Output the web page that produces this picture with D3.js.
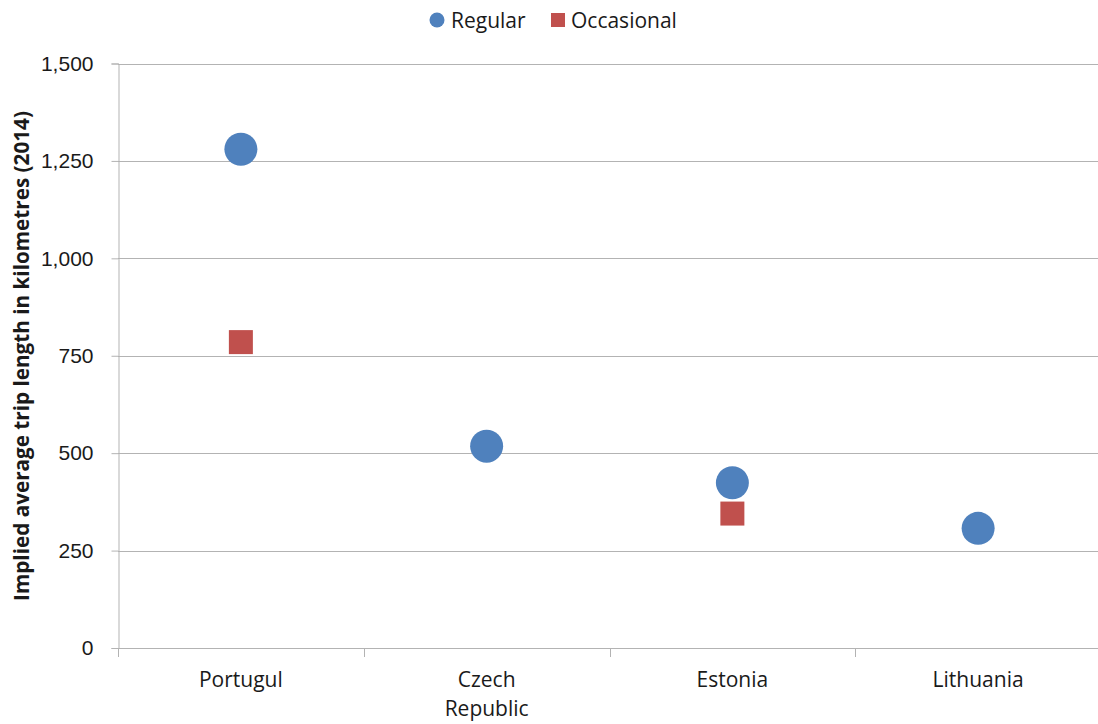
<!DOCTYPE html>
<html>
<head>
<meta charset="utf-8">
<script src="https://cdn.jsdelivr.net/npm/d3@7"></script>
<style>
  html, body { margin: 0; padding: 0; background: #fff; }
  svg { display: block; font-family: "Open Sans", "Liberation Sans", sans-serif; }
</style>
</head>
<body>
<svg id="chart" width="1098" height="724"></svg>
<script>
// Implied average trip length (km, 2014) by country
const categories = [["Portugul"], ["Czech", "Republic"], ["Estonia"], ["Lithuania"]];
const regular = [1280, 518, 424, 307];
const occasional = [785, null, 345, null];
const yTicks = [0, 250, 500, 750, 1000, 1250, 1500];

const svg = d3.select("#chart");
const plotLeft = 118, plotRight = 1101, plotTop = 63.5, plotBottom = 648;

const x = d3.scaleBand().domain(d3.range(categories.length)).range([plotLeft, plotRight]);
const y = d3.scaleLinear().domain([0, 1500]).range([plotBottom, plotTop]);

const gridColor = "#b3b3b3";
const textColor = "#1a1a1a";

// horizontal gridlines
svg.append("g").selectAll("line").data(yTicks.filter(d => d > 0)).join("line")
  .attr("x1", plotLeft).attr("x2", 1098)
  .attr("y1", d => Math.round(y(d)) + 0.5).attr("y2", d => Math.round(y(d)) + 0.5)
  .attr("stroke", gridColor).attr("stroke-width", 1);

// y axis
const yAxis = svg.append("g").attr("transform", `translate(${plotLeft + 0.5},0)`)
  .call(d3.axisLeft(y).tickValues(yTicks).tickSize(7).tickPadding(18)
    .tickFormat(d3.format(",")));
yAxis.select(".domain").attr("stroke", gridColor);
yAxis.selectAll(".tick line").attr("stroke", gridColor);
yAxis.selectAll(".tick text").attr("fill", textColor).style("font-size", "21px");

// x axis baseline and category separators
const xg = svg.append("g");
xg.append("line").attr("x1", plotLeft).attr("x2", 1098)
  .attr("y1", Math.round(plotBottom) + 0.5).attr("y2", Math.round(plotBottom) + 0.5)
  .attr("stroke", gridColor);
xg.selectAll("line.sep").data(d3.range(categories.length)).join("line")
  .attr("class", "sep")
  .attr("x1", d => Math.round(x(d)) + 0.5).attr("x2", d => Math.round(x(d)) + 0.5)
  .attr("y1", plotBottom).attr("y2", plotBottom + 9)
  .attr("stroke", gridColor);

// category labels
const labels = xg.selectAll("text").data(categories).join("text")
  .attr("x", (d, i) => x(i) + x.bandwidth() / 2)
  .attr("y", 687)
  .attr("text-anchor", "middle")
  .attr("fill", textColor)
  .style("font-size", "21px");
labels.each(function(lines) {
  const t = d3.select(this);
  lines.forEach((s, k) => t.append("tspan")
    .attr("x", t.attr("x")).attr("dy", k === 0 ? 0 : 29).text(s));
});

// y axis title
svg.append("text")
  .attr("transform", `translate(29,356) rotate(-90)`)
  .attr("text-anchor", "middle")
  .attr("fill", textColor)
  .style("font-size", "20.7px").style("font-weight", "bold")
  .text("Implied average trip length in kilometres (2014)");

const blue = "#4f81bd", red = "#c0504d";

// occasional series: squares
svg.append("g").selectAll("rect")
  .data(occasional.map((v, i) => ({ v, i })).filter(d => d.v != null))
  .join("rect")
  .attr("x", d => x(d.i) + x.bandwidth() / 2 - 12)
  .attr("y", d => y(d.v) - 12)
  .attr("width", 24).attr("height", 24)
  .attr("fill", red);

// regular series: circles
svg.append("g").selectAll("circle")
  .data(regular.map((v, i) => ({ v, i })))
  .join("circle")
  .attr("cx", d => x(d.i) + x.bandwidth() / 2)
  .attr("cy", d => y(d.v))
  .attr("r", 16.5)
  .attr("fill", blue);

// legend
const lg = svg.append("g");
lg.append("circle").attr("cx", 437).attr("cy", 20).attr("r", 7.5).attr("fill", blue);
lg.append("text").attr("x", 451).attr("y", 28).attr("fill", textColor)
  .style("font-size", "21px").text("Regular");
lg.append("rect").attr("x", 551).attr("y", 13).attr("width", 14).attr("height", 14).attr("fill", red);
lg.append("text").attr("x", 571).attr("y", 28).attr("fill", textColor)
  .style("font-size", "21px").text("Occasional");
</script>
</body>
</html>
